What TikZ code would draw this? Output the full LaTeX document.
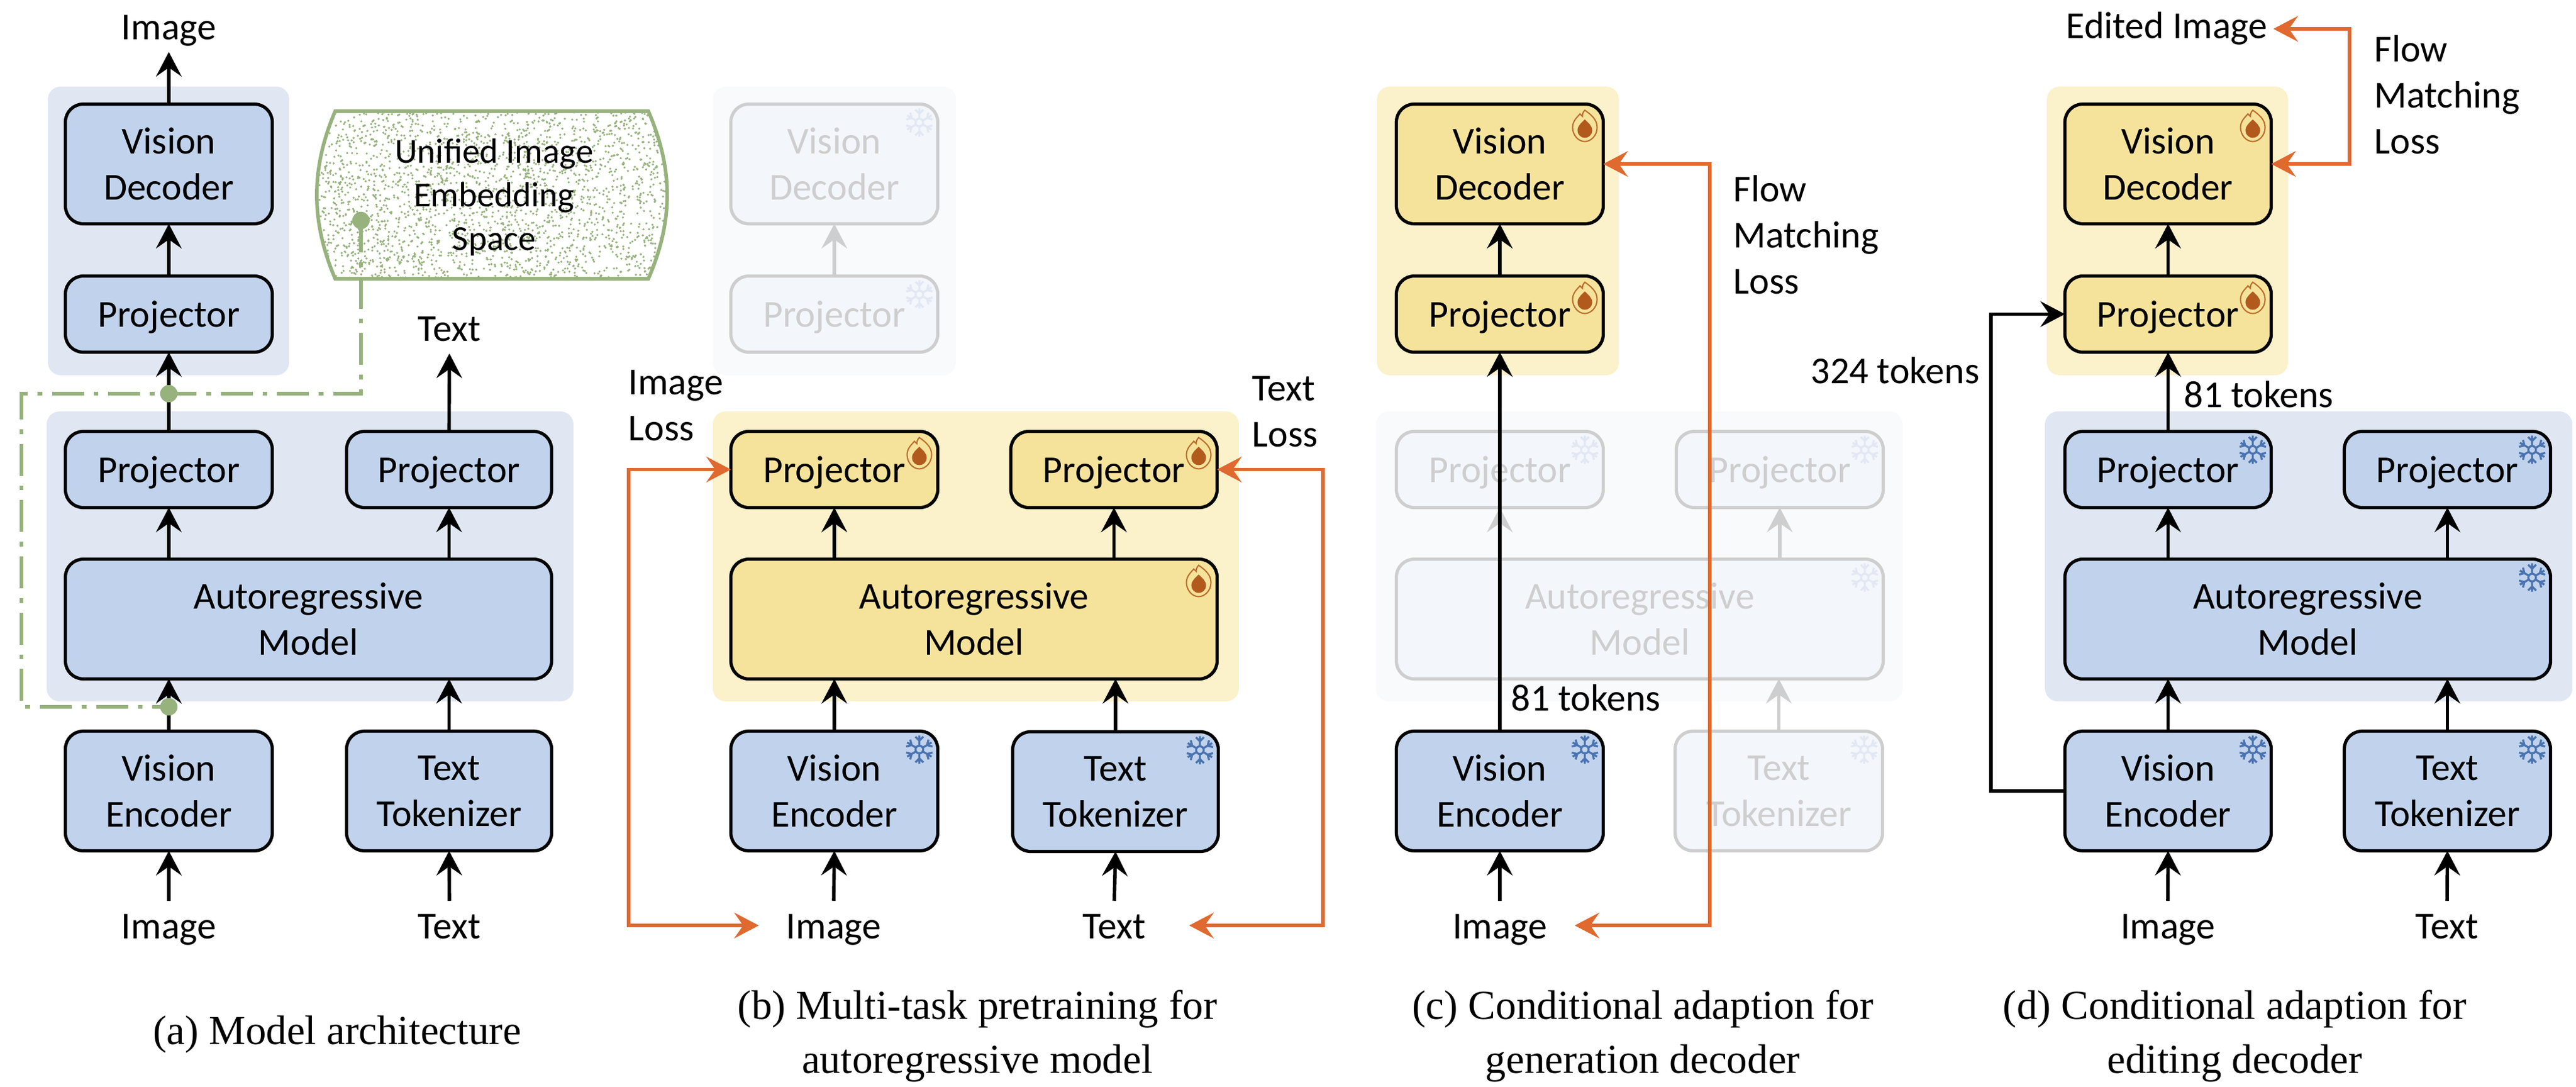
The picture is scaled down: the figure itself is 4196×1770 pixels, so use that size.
\documentclass[tikz,border=0pt]{standalone}
\usepackage{fontspec}
\setmainfont{Carlito}
\newfontfamily\capfont{Liberation Serif}
\usetikzlibrary{arrows.meta,calc}
\definecolor{boxblue}{HTML}{C1D3EC}
\definecolor{grpblue}{HTML}{E0E7F3}
\definecolor{boxyel}{HTML}{F6E39B}
\definecolor{grpyel}{HTML}{FBF1CB}
\definecolor{ghgrp}{HTML}{F9FAFC}
\definecolor{ghbox}{HTML}{F3F6FB}
\definecolor{ghline}{HTML}{CECECE}
\definecolor{ghsnow}{HTML}{E2E8F3}
\definecolor{orng}{HTML}{E0692F}
\definecolor{grn}{HTML}{97B27D}
\definecolor{flame}{HTML}{B25A1E}
\definecolor{snowc}{HTML}{4A73B0}
\tikzset{
  x=0.24pt,y=-0.24pt,
  basef/.style={font=\fontsize{14.85}{18}\selectfont},
  bxb/.style={basef,draw=black,line width=1.25pt,rounded corners=7pt,align=center,inner sep=0pt,outer sep=0pt},
  bluebx/.style={bxb,fill=boxblue},
  yelbx/.style={bxb,fill=boxyel},
  ghostbx/.style={bxb,draw=ghline,fill=ghbox,text=ghline},
  grp/.style={rounded corners=5pt,inner sep=0pt,outer sep=0pt},
  lbl/.style={basef,anchor=base,inner sep=0pt,text height=9.2pt,text depth=3pt},
  lbltop/.style={lbl,outer sep=1.7pt},
  lblbot/.style={lbl,outer sep=5.5pt},
  freet/.style={basef,anchor=base west,inner sep=0pt,align=left},
  captxt/.style={font=\capfont\fontsize{16.1}{21}\selectfont,align=center,inner sep=0pt,anchor=base},
  arr/.style={-{Stealth[length=9.6pt,width=10pt,inset=3.5pt]},line width=1.35pt,black},
  garr/.style={arr,ghline},
  oarr/.style={{Stealth[length=9.6pt,width=10pt,inset=3.5pt]}-{Stealth[length=9.6pt,width=10pt,inset=3.5pt]},line width=1.25pt,orng},
  dashg/.style={draw=grn,line width=1.25pt,dash pattern=on 12.5pt off 3.8pt on 1.9pt off 3.8pt},
  gdot/.style={circle,fill=grn,inner sep=0pt,minimum size=6.8pt,outer sep=0pt},
}
\newcommand{\bx}[7]{\node[#6,minimum width={(#4-#2-5)*0.24pt},minimum height={(#5-#3-5)*0.24pt}] (#1) at ({(#2+#4)/2},{(#3+#5)/2}) {#7};}
\newcommand{\gp}[6]{\node[grp,fill=#6,minimum width={(#4-#2)*0.24pt},minimum height={(#5-#3)*0.24pt}] (#1) at ({(#2+#4)/2},{(#3+#5)/2}) {};}
\newcommand{\Pj}{\raisebox{0pt}[\height][0pt]{Projector}}
\newcommand{\snow}[2]{%
  \begin{scope}[shift={(#1.north east)},shift={(-30,30)},draw=#2,line width=0.8pt]
    \draw (0,0) circle[radius=1.5pt];
    \foreach \a in {0,60,...,300}{
      \draw[rotate=\a] (0,-6) -- (0,-23) (-6.5,-21) -- (0,-14.5) -- (6.5,-21);
    }
  \end{scope}}
\newcommand{\flm}[1]{%
  \begin{scope}[shift={(#1.north east)},shift={(-30,35)}]
    \draw[flame,line width=0.5pt,opacity=.85] (0,-25) .. controls (10,-18) and (20,-10) .. (20,3) .. controls (20,16) and (10,26) .. (0,26) .. controls (-11,26) and (-20,15) .. (-20,3) .. controls (-20,-8) and (-12,-14) .. (-8,-19) .. controls (-6,-17) and (-5,-16) .. (-4,-15) .. controls (-4,-19) and (-3,-22) .. (0,-25) -- cycle;
    \fill[flame] (0,-10) .. controls (5,-5) and (12,0) .. (12,8) .. controls (12,15) and (6,20) .. (0,20) .. controls (-6,20) and (-12,15) .. (-12,8) .. controls (-12,0) and (-5,-5) .. (0,-10) -- cycle;
  \end{scope}}
\begin{document}
\begin{tikzpicture}
\useasboundingbox (0,0) rectangle (4196,1770);
% ---------- panel a
\gp{aG1}{78}{141}{471}{611}{grpblue}
\gp{aG2}{76}{670}{934}{1142}{grpblue}
\bx{aDec}{104}{167}{446}{367}{bluebx}{Vision\\Decoder}
\bx{aPt}{104}{447}{446}{576}{bluebx}{\Pj}
\bx{aP1}{104}{700}{446}{829}{bluebx}{\Pj}
\bx{aP2}{562}{700}{901}{829}{bluebx}{\Pj}
\bx{aAr}{104}{908}{901}{1108}{bluebx}{Autoregressive\\Model}
\bx{aEn}{104}{1188}{446}{1388}{bluebx}{Vision\\Encoder}
\bx{aTo}{562}{1188}{901}{1388}{bluebx}{Text\\Tokenizer}
\node[lbltop] (aImgT) at (275,65) {Image};
\node[lbltop] (aTxtT) at (732,556) {Text};
\node[lblbot] (aImg) at (275,1528) {Image};
\node[lblbot] (aTxt) at (732,1528) {Text};
\draw[arr] (aDec.north) -- (aImgT.south);
\draw[arr] (aPt.north) -- (aDec.south);
\draw[arr] (aP1.north) -- (aPt.south);
\draw[arr] (aP2.north) -- (aTxtT.south);
\draw[arr] (aEn.north) -- (aEn.north |- aAr.south);
\draw[arr] (aTo.north) -- (aTo.north |- aAr.south);
\draw[arr] (aAr.north -| aP1) -- (aP1.south);
\draw[arr] (aAr.north -| aP2) -- (aP2.south);
\draw[arr] (aImg.north) -- (aEn.south);
\draw[arr] (aTxt.north) -- (aTo.south);
% embedding space
\begin{scope}
  \clip (546,181) -- (1056,181) .. controls (1097,275) and (1097,360) .. (1056,454) -- (546,454) .. controls (506,360) and (506,275) .. (546,181) -- cycle;
  \pgfmathsetseed{4242}
  \fill[grn] \foreach \i in {1,...,2400}{ ({516+571*rnd},{181+273*rnd}) circle[radius=0.46pt] };
\end{scope}
\draw[grn,line width=1.4pt] (546,181) -- (1056,181) .. controls (1097,275) and (1097,360) .. (1056,454) -- (546,454) .. controls (506,360) and (506,275) .. (546,181) -- cycle;
\node[font=\fontsize{13.7}{17}\selectfont,align=center,inner sep=0pt] (space) at (805,321) {Unified Image\\Embedding\\Space};
\node[gdot] (gd1) at (588,359) {};
\node[gdot] (gd2) at (275,641) {};
\node[gdot] (gd3) at (275,1151) {};
\coordinate (gc1) at (35,900);
\draw[dashg] (gd1.center) -- (gd1.center |- gd2.center) -- (gc1 |- gd2.center) -- (gc1 |- gd3.center) -- (gd3.center);
% ---------- panel b
\gp{bG1}{1161}{141}{1557}{611}{ghgrp}
\gp{bG2}{1161}{670}{2018}{1142}{grpyel}
\bx{bDec}{1188}{167}{1530}{367}{ghostbx}{Vision\\Decoder}
\bx{bPt}{1188}{447}{1530}{576}{ghostbx}{\Pj}
\draw[garr] (bPt.north) -- (bDec.south);
\snow{bDec}{ghsnow}\snow{bPt}{ghsnow}
\bx{bP1}{1188}{700}{1530}{829}{yelbx}{\Pj}
\bx{bP2}{1644}{700}{1985}{829}{yelbx}{\Pj}
\bx{bAr}{1188}{908}{1985}{1108}{yelbx}{Autoregressive\\Model}
\bx{bEn}{1188}{1188}{1530}{1388}{bluebx}{Vision\\Encoder}
\bx{bTo}{1647}{1189}{1987}{1389}{bluebx}{Text\\Tokenizer}
\flm{bP1}\flm{bP2}\flm{bAr}\snow{bEn}{snowc}\snow{bTo}{snowc}
\node[lblbot] (bImg) at (1358,1528) {Image};
\node[lblbot] (bTxt) at (1815,1528) {Text};
\draw[arr] (bEn.north) -- (bEn.north |- bAr.south);
\draw[arr] (bTo.north) -- (bTo.north |- bAr.south);
\draw[arr] (bAr.north -| bP1) -- (bP1.south);
\draw[arr] (bAr.north -| bP2) -- (bP2.south);
\draw[arr] (bImg.north) -- (bEn.south);
\draw[arr] (bTxt.north) -- (bTo.south);
\coordinate (bL) at (1024,900);
\coordinate (bR) at (2155,900);
\coordinate (bT1) at (1236,1507);
\coordinate (bT2) at (1937,1507);
\draw[oarr] (bP1.west) -- (bP1.west -| bL) -- (bL |- bT1) -- (bT1);
\draw[oarr] (bP2.east) -- (bP2.east -| bR) -- (bR |- bT2) -- (bT2);
\node[freet] (bL1) at (1023,718) {Image\\Loss};
\node[freet] (bL2) at (2039,728) {Text\\Loss};
% ---------- panel c
\gp{cG1}{2243}{141}{2637}{611}{grpyel}
\gp{cG2}{2241}{670}{3099}{1142}{ghgrp}
\bx{cDec}{2272}{167}{2614}{367}{yelbx}{Vision\\Decoder}
\bx{cPt}{2272}{447}{2614}{576}{yelbx}{\Pj}
\flm{cDec}\flm{cPt}
\draw[arr] (cPt.north) -- (cDec.south);
\bx{cP1}{2272}{700}{2614}{829}{ghostbx}{\Pj}
\bx{cP2}{2728}{700}{3070}{829}{ghostbx}{\Pj}
\bx{cAr}{2272}{908}{3070}{1108}{ghostbx}{Autoregressive\\Model}
\bx{cEn}{2272}{1188}{2614}{1388}{bluebx}{Vision\\Encoder}
\bx{cTo}{2726}{1188}{3069}{1388}{ghostbx}{Text\\Tokenizer}
\snow{cP1}{ghsnow}\snow{cP2}{ghsnow}\snow{cAr}{ghsnow}\snow{cTo}{ghsnow}\snow{cEn}{snowc}
\draw[garr] (cAr.north -| cP1) -- (cP1.south);
\draw[garr] (cAr.north -| cP2) -- (cP2.south);
\draw[garr] (cTo.north) -- (cTo.north |- cAr.south);
\draw[arr] (cEn.north) -- (cPt.south);
\node[lblbot] (cImg) at (2443,1528) {Image};
\draw[arr] (cImg.north) -- (cEn.south);
\coordinate (cR) at (2785,900);
\coordinate (cT) at (2565,1507);
\draw[oarr] (cDec.east) -- (cDec.east -| cR) -- (cR |- cT) -- (cT);
\node[freet] (c81) at (2461,1157) {81 tokens};
\node[freet] (cFl) at (2823,479) {Flow\\Matching\\Loss};
% ---------- panel d
\gp{dG1}{3334}{141}{3727}{611}{grpyel}
\gp{dG2}{3331}{670}{4190}{1142}{grpblue}
\bx{dDec}{3361}{167}{3702}{367}{yelbx}{Vision\\Decoder}
\bx{dPt}{3361}{447}{3702}{576}{yelbx}{\Pj}
\flm{dDec}\flm{dPt}
\draw[arr] (dPt.north) -- (dDec.south);
\bx{dP1}{3361}{700}{3702}{829}{bluebx}{\Pj}
\bx{dP2}{3816}{700}{4157}{829}{bluebx}{\Pj}
\bx{dAr}{3361}{908}{4157}{1108}{bluebx}{Autoregressive\\Model}
\bx{dEn}{3361}{1188}{3702}{1388}{bluebx}{Vision\\Encoder}
\bx{dTo}{3816}{1188}{4157}{1388}{bluebx}{Text\\Tokenizer}
\snow{dP1}{snowc}\snow{dP2}{snowc}\snow{dAr}{snowc}\snow{dEn}{snowc}\snow{dTo}{snowc}
\node[lblbot] (dImg) at (3531,1528) {Image};
\node[lblbot] (dTxt) at (3986,1528) {Text};
\draw[arr] (dP1.north) -- (dPt.south);
\draw[arr] (dEn.north) -- (dEn.north |- dAr.south);
\draw[arr] (dTo.north) -- (dTo.north |- dAr.south);
\draw[arr] (dAr.north -| dP1) -- (dP1.south);
\draw[arr] (dAr.north -| dP2) -- (dP2.south);
\draw[arr] (dImg.north) -- (dEn.south);
\draw[arr] (dTxt.north) -- (dTo.south);
\coordinate (dL) at (3243,900);
\draw[arr] (dEn.west) -- (dEn.west -| dL) -- (dL |- dPt.west) -- (dPt.west);
\node[freet,anchor=base east] (d324) at (3225,625) {324 tokens};
\node[freet] (d81) at (3557,664) {81 tokens};
\node[freet,anchor=base east] (dEd) at (3694,63) {Edited Image};
\coordinate (dR) at (3827,200);
\coordinate (dT) at (3703,47);
\draw[oarr] (dDec.east) -- (dDec.east -| dR) -- (dR |- dT) -- (dT);
\node[freet] (dFl) at (3867,251) {Flow\\Matching\\Loss};
% ---------- captions
\node[captxt] (capa) at (549,1700) {(a) Model architecture};
\node[captxt] (capb) at (1592,1747) {(b) Multi-task pretraining for\\autoregressive model};
\node[captxt] (capc) at (2676,1747) {(c) Conditional adaption for\\generation decoder};
\node[captxt] (capd) at (3640,1747) {(d) Conditional adaption for\\editing decoder};
\end{tikzpicture}
\end{document}
